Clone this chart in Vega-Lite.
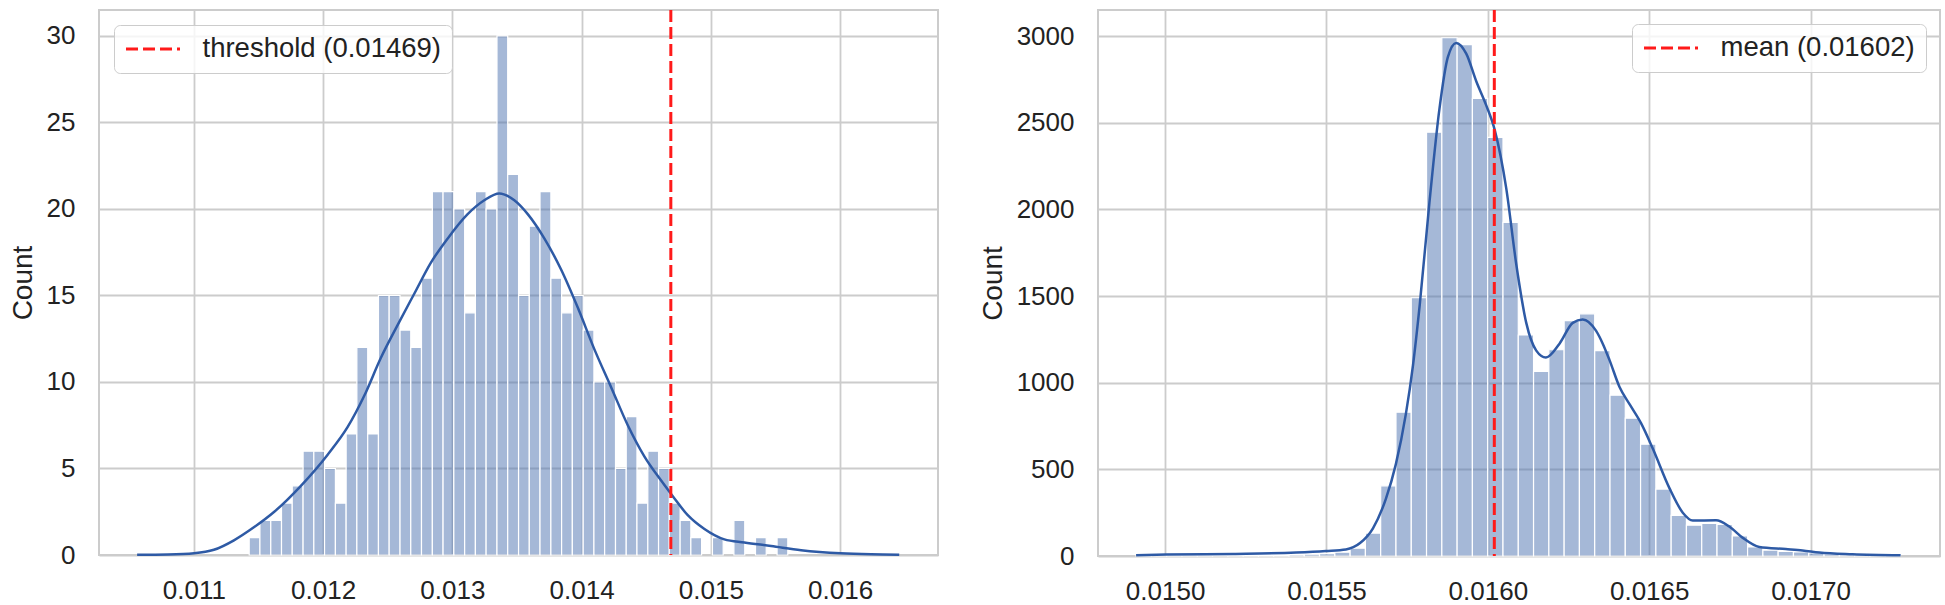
{
  "$schema": "https://vega.github.io/schema/vega-lite/v6.json",
  "padding": {"left": 8, "top": 7, "right": 0, "bottom": 0},
  "spacing": 39,
  "config": {
    "font": "Liberation Sans",
    "view": {"stroke": "#cccccc", "strokeWidth": 2},
    "axis": {
      "grid": true, "gridColor": "#cccccc", "gridWidth": 1.8,
      "domain": false, "ticks": false, "tickSize": 0,
      "labelFontSize": 26, "labelColor": "#222222",
      "titleFontSize": 28, "titleFontWeight": "normal", "titleColor": "#222222"
    },
    "legend": {
      "title": null, "symbolType": "stroke", "symbolSize": 2916, "symbolStrokeWidth": 3,
      "symbolDash": [12, 5], "labelFontSize": 27.5, "labelColor": "#222222", "labelOffset": 21,
      "labelLimit": 600, "padding": 10.5, "clipHeight": 27, "strokeColor": "#cccccc",
      "fillColor": "rgba(255,255,255,0.8)", "cornerRadius": 6, "offset": 14.5
    }
  },
  "resolve": {"scale": {"color": "independent"}, "legend": {"color": "independent"}},
  "hconcat": [
    {
      "width": 839,
      "height": 545,
      "layer": [
        {
          "data": {"values": [
            {"x0": 0.011428, "x1": 0.011511, "count": 1},
            {"x0": 0.011511, "x1": 0.011595, "count": 2},
            {"x0": 0.011595, "x1": 0.011678, "count": 2},
            {"x0": 0.011678, "x1": 0.011761, "count": 3},
            {"x0": 0.011761, "x1": 0.011845, "count": 4},
            {"x0": 0.011845, "x1": 0.011928, "count": 6},
            {"x0": 0.011928, "x1": 0.012011, "count": 6},
            {"x0": 0.012011, "x1": 0.012095, "count": 5},
            {"x0": 0.012095, "x1": 0.012178, "count": 3},
            {"x0": 0.012178, "x1": 0.012261, "count": 7},
            {"x0": 0.012261, "x1": 0.012345, "count": 12},
            {"x0": 0.012345, "x1": 0.012428, "count": 7},
            {"x0": 0.012428, "x1": 0.012511, "count": 15},
            {"x0": 0.012511, "x1": 0.012595, "count": 15},
            {"x0": 0.012595, "x1": 0.012678, "count": 13},
            {"x0": 0.012678, "x1": 0.012761, "count": 12},
            {"x0": 0.012761, "x1": 0.012845, "count": 16},
            {"x0": 0.012845, "x1": 0.012928, "count": 21},
            {"x0": 0.012928, "x1": 0.013011, "count": 21},
            {"x0": 0.013011, "x1": 0.013095, "count": 20},
            {"x0": 0.013095, "x1": 0.013178, "count": 14},
            {"x0": 0.013178, "x1": 0.013261, "count": 21},
            {"x0": 0.013261, "x1": 0.013345, "count": 20},
            {"x0": 0.013345, "x1": 0.013428, "count": 30},
            {"x0": 0.013428, "x1": 0.013512, "count": 22},
            {"x0": 0.013512, "x1": 0.013595, "count": 15},
            {"x0": 0.013595, "x1": 0.013678, "count": 19},
            {"x0": 0.013678, "x1": 0.013762, "count": 21},
            {"x0": 0.013762, "x1": 0.013845, "count": 16},
            {"x0": 0.013845, "x1": 0.013928, "count": 14},
            {"x0": 0.013928, "x1": 0.014012, "count": 15},
            {"x0": 0.014012, "x1": 0.014095, "count": 13},
            {"x0": 0.014095, "x1": 0.014178, "count": 10},
            {"x0": 0.014178, "x1": 0.014262, "count": 10},
            {"x0": 0.014262, "x1": 0.014345, "count": 5},
            {"x0": 0.014345, "x1": 0.014428, "count": 8},
            {"x0": 0.014428, "x1": 0.014512, "count": 3},
            {"x0": 0.014512, "x1": 0.014595, "count": 6},
            {"x0": 0.014595, "x1": 0.014678, "count": 5},
            {"x0": 0.014678, "x1": 0.014762, "count": 3},
            {"x0": 0.014762, "x1": 0.014845, "count": 2},
            {"x0": 0.014845, "x1": 0.014928, "count": 1},
            {"x0": 0.015012, "x1": 0.015095, "count": 1},
            {"x0": 0.015178, "x1": 0.015262, "count": 2},
            {"x0": 0.015345, "x1": 0.015428, "count": 1},
            {"x0": 0.015512, "x1": 0.015595, "count": 1}
          ]},
          "mark": {"type": "rect", "fill": "#4c72b0", "fillOpacity": 0.5, "stroke": "white", "strokeWidth": 1.2},
          "encoding": {
            "x": {"field": "x0", "type": "quantitative",
                  "scale": {"domain": [0.010266, 0.016757], "nice": false, "zero": false},
                  "axis": {"values": [0.011, 0.012, 0.013, 0.014, 0.015, 0.016], "format": ".3f", "labelPadding": 22, "title": null}},
            "x2": {"field": "x1"},
            "y": {"field": "count", "type": "quantitative",
                  "scale": {"domain": [0, 31.5], "nice": false},
                  "axis": {"values": [0, 5, 10, 15, 20, 25, 30], "format": "d", "labelPadding": 24, "titlePadding": 9, "title": "Count"}},
            "y2": {"datum": 0}
          }
        },
        {
          "data": {"values": [
            {"x": 0.010561, "y": 0.01}, {"x": 0.0108, "y": 0.03}, {"x": 0.011002, "y": 0.1},
            {"x": 0.011155, "y": 0.3}, {"x": 0.01131, "y": 0.85}, {"x": 0.011464, "y": 1.6},
            {"x": 0.011622, "y": 2.5}, {"x": 0.011828, "y": 4.0}, {"x": 0.012035, "y": 5.8},
            {"x": 0.01219, "y": 7.4}, {"x": 0.012318, "y": 9.2}, {"x": 0.012447, "y": 11.4},
            {"x": 0.012577, "y": 13.3}, {"x": 0.012705, "y": 15.1}, {"x": 0.012834, "y": 16.9},
            {"x": 0.012964, "y": 18.3}, {"x": 0.013118, "y": 19.7}, {"x": 0.013247, "y": 20.5},
            {"x": 0.013363, "y": 20.9}, {"x": 0.013479, "y": 20.5}, {"x": 0.013583, "y": 19.7},
            {"x": 0.013711, "y": 18.3}, {"x": 0.013841, "y": 16.5}, {"x": 0.01397, "y": 14.3},
            {"x": 0.014098, "y": 11.9}, {"x": 0.014228, "y": 9.7}, {"x": 0.014357, "y": 7.5},
            {"x": 0.014485, "y": 5.7}, {"x": 0.014615, "y": 4.3}, {"x": 0.014705, "y": 3.4},
            {"x": 0.014821, "y": 2.3}, {"x": 0.01495, "y": 1.5}, {"x": 0.015104, "y": 0.9},
            {"x": 0.015259, "y": 0.72}, {"x": 0.015466, "y": 0.52}, {"x": 0.015698, "y": 0.28},
            {"x": 0.016002, "y": 0.1}, {"x": 0.01624, "y": 0.04}, {"x": 0.016457, "y": 0.02}
          ]},
          "mark": {"type": "line", "color": "#2e5aa5", "strokeWidth": 2.5, "interpolate": "monotone"},
          "encoding": {
            "x": {"field": "x", "type": "quantitative"},
            "y": {"field": "y", "type": "quantitative"}
          }
        },
        {
          "data": {"values": [{"label": "threshold (0.01469)", "value": 0.01469}]},
          "mark": {"type": "rule", "strokeWidth": 3, "strokeDash": [12, 5]},
          "encoding": {
            "x": {"field": "value", "type": "quantitative"},
            "color": {"field": "label", "type": "nominal", "scale": {"range": ["#ff1a1a"]},
                      "legend": {"orient": "top-left"}}
          }
        }
      ]
    },
    {
      "width": 842,
      "height": 546,
      "layer": [
        {
          "data": {"values": [
            {"x0": 0.014910, "x1": 0.0149574, "count": 2},
            {"x0": 0.0149574, "x1": 0.0150047, "count": 1},
            {"x0": 0.0150047, "x1": 0.0150521, "count": 4},
            {"x0": 0.0150521, "x1": 0.0150995, "count": 2},
            {"x0": 0.0150995, "x1": 0.0151469, "count": 2},
            {"x0": 0.0151469, "x1": 0.0151942, "count": 3},
            {"x0": 0.0151942, "x1": 0.0152416, "count": 3},
            {"x0": 0.0152416, "x1": 0.015289, "count": 4},
            {"x0": 0.015289, "x1": 0.0153363, "count": 5},
            {"x0": 0.0153363, "x1": 0.0153837, "count": 6},
            {"x0": 0.0153837, "x1": 0.0154311, "count": 8},
            {"x0": 0.0154311, "x1": 0.0154784, "count": 10},
            {"x0": 0.0154784, "x1": 0.0155258, "count": 14},
            {"x0": 0.0155258, "x1": 0.0155732, "count": 22},
            {"x0": 0.0155732, "x1": 0.0156206, "count": 45},
            {"x0": 0.0156206, "x1": 0.0156679, "count": 132},
            {"x0": 0.0156679, "x1": 0.0157153, "count": 405},
            {"x0": 0.0157153, "x1": 0.0157627, "count": 830},
            {"x0": 0.0157627, "x1": 0.01581, "count": 1490},
            {"x0": 0.01581, "x1": 0.0158574, "count": 2445},
            {"x0": 0.0158574, "x1": 0.0159048, "count": 2990},
            {"x0": 0.0159048, "x1": 0.0159521, "count": 2950},
            {"x0": 0.0159521, "x1": 0.0159995, "count": 2640},
            {"x0": 0.0159995, "x1": 0.0160469, "count": 2415},
            {"x0": 0.0160469, "x1": 0.0160943, "count": 1925},
            {"x0": 0.0160943, "x1": 0.0161416, "count": 1275},
            {"x0": 0.0161416, "x1": 0.016189, "count": 1065},
            {"x0": 0.016189, "x1": 0.0162364, "count": 1190},
            {"x0": 0.0162364, "x1": 0.0162837, "count": 1358},
            {"x0": 0.0162837, "x1": 0.0163311, "count": 1397},
            {"x0": 0.0163311, "x1": 0.0163785, "count": 1185},
            {"x0": 0.0163785, "x1": 0.0164258, "count": 928},
            {"x0": 0.0164258, "x1": 0.0164732, "count": 795},
            {"x0": 0.0164732, "x1": 0.0165206, "count": 645},
            {"x0": 0.0165206, "x1": 0.016568, "count": 386},
            {"x0": 0.016568, "x1": 0.0166153, "count": 234},
            {"x0": 0.0166153, "x1": 0.0166627, "count": 178},
            {"x0": 0.0166627, "x1": 0.0167101, "count": 188},
            {"x0": 0.0167101, "x1": 0.0167574, "count": 182},
            {"x0": 0.0167574, "x1": 0.0168048, "count": 116},
            {"x0": 0.0168048, "x1": 0.0168522, "count": 52},
            {"x0": 0.0168522, "x1": 0.0168995, "count": 34},
            {"x0": 0.0168995, "x1": 0.0169469, "count": 27},
            {"x0": 0.0169469, "x1": 0.0169943, "count": 23},
            {"x0": 0.0169943, "x1": 0.0170417, "count": 18},
            {"x0": 0.0170417, "x1": 0.017089, "count": 12},
            {"x0": 0.017089, "x1": 0.0171364, "count": 8},
            {"x0": 0.0171364, "x1": 0.0171838, "count": 6},
            {"x0": 0.0171838, "x1": 0.0172311, "count": 3},
            {"x0": 0.0172311, "x1": 0.0172785, "count": 2}
          ]},
          "mark": {"type": "rect", "fill": "#4c72b0", "fillOpacity": 0.5, "stroke": "white", "strokeWidth": 1.2},
          "encoding": {
            "x": {"field": "x0", "type": "quantitative",
                  "scale": {"domain": [0.014792, 0.017401], "nice": false, "zero": false},
                  "axis": {"values": [0.015, 0.0155, 0.016, 0.0165, 0.017], "format": ".4f", "labelPadding": 22, "title": null}},
            "x2": {"field": "x1"},
            "y": {"field": "count", "type": "quantitative",
                  "scale": {"domain": [0, 3150], "nice": false},
                  "axis": {"values": [0, 500, 1000, 1500, 2000, 2500, 3000], "format": "d", "labelPadding": 24, "titlePadding": 9, "title": "Count"}},
            "y2": {"datum": 0}
          }
        },
        {
          "data": {"values": [
            {"x": 0.01491, "y": 5}, {"x": 0.015003, "y": 8}, {"x": 0.015211, "y": 12},
            {"x": 0.015406, "y": 20}, {"x": 0.015498, "y": 29}, {"x": 0.01556, "y": 38},
            {"x": 0.015604, "y": 75}, {"x": 0.015644, "y": 160}, {"x": 0.015684, "y": 330},
            {"x": 0.015715, "y": 530}, {"x": 0.015746, "y": 820}, {"x": 0.015768, "y": 1100},
            {"x": 0.015789, "y": 1450}, {"x": 0.015819, "y": 2040}, {"x": 0.01585, "y": 2580},
            {"x": 0.015876, "y": 2878}, {"x": 0.015902, "y": 2960}, {"x": 0.015933, "y": 2898},
            {"x": 0.015964, "y": 2739}, {"x": 0.015995, "y": 2600}, {"x": 0.016021, "y": 2460},
            {"x": 0.016057, "y": 2121}, {"x": 0.016088, "y": 1683}, {"x": 0.016119, "y": 1345},
            {"x": 0.01615, "y": 1185}, {"x": 0.01618, "y": 1145}, {"x": 0.016222, "y": 1225},
            {"x": 0.016263, "y": 1345}, {"x": 0.016294, "y": 1365}, {"x": 0.016335, "y": 1300},
            {"x": 0.016356, "y": 1225}, {"x": 0.016377, "y": 1130}, {"x": 0.016408, "y": 975},
            {"x": 0.016441, "y": 870}, {"x": 0.016475, "y": 765}, {"x": 0.016511, "y": 620},
            {"x": 0.016563, "y": 390}, {"x": 0.016604, "y": 250}, {"x": 0.016635, "y": 205},
            {"x": 0.016707, "y": 206}, {"x": 0.016748, "y": 170}, {"x": 0.016789, "y": 106},
            {"x": 0.016841, "y": 52}, {"x": 0.016923, "y": 40}, {"x": 0.016975, "y": 32},
            {"x": 0.017027, "y": 20}, {"x": 0.01713, "y": 10}, {"x": 0.017279, "y": 4}
          ]},
          "mark": {"type": "line", "color": "#2e5aa5", "strokeWidth": 2.5, "interpolate": "monotone"},
          "encoding": {
            "x": {"field": "x", "type": "quantitative"},
            "y": {"field": "y", "type": "quantitative"}
          }
        },
        {
          "data": {"values": [{"label": "mean (0.01602)", "value": 0.01602}]},
          "mark": {"type": "rule", "strokeWidth": 3, "strokeDash": [12, 5]},
          "encoding": {
            "x": {"field": "value", "type": "quantitative"},
            "color": {"field": "label", "type": "nominal", "scale": {"range": ["#ff1a1a"]},
                      "legend": {"orient": "top-right", "offset": 14}}
          }
        }
      ]
    }
  ]
}
